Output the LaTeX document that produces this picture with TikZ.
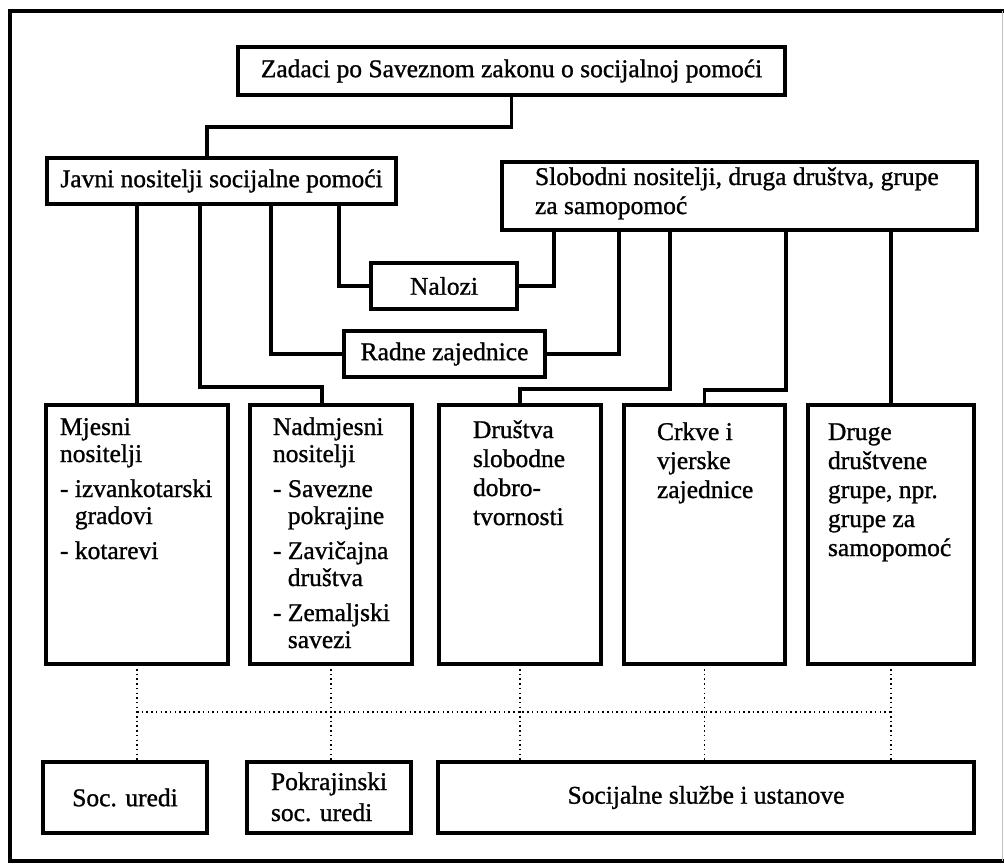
\documentclass[tikz,border=0pt]{standalone}
\usepackage{fontspec}
\setmainfont{Liberation Serif}[FakeBold=1.0]
\usetikzlibrary{calc}
\newcommand\dgfont{\fontsize{25.5}{27}\selectfont}
\newcommand\dgfontw{\fontsize{25.5}{29}\selectfont}
\tikzset{
  box/.style={draw, line width=3.2pt, inner sep=0pt, outer sep=0pt, font=\dgfont},
  tall/.style={box, minimum height=259pt},
  low/.style={box, minimum height=71pt},
  txt/.style={anchor=base west, inner sep=0pt, outer sep=0pt},
  conn/.style={line width=3.1pt},
  dotl/.style={line width=1.5pt, dash pattern=on 1.5pt off 3.2pt},
  frame/.style={line width=4.5pt}
}
\begin{document}
\begin{tikzpicture}[x=1pt,y=-1pt]
\useasboundingbox (0,0) rectangle (1004,864);
\fill[white] (0,0) rectangle (1004,864);
\draw[frame] (1004,11) -- (10,11) -- (10,861) -- (1004,861);
\draw[gray!50, line width=1pt] (1002,11) -- (1002,861);

% top boxes
\node[box, minimum width=547pt, minimum height=48pt] (zadaci) at (511.5,71) {Zadaci po Saveznom zakonu o socijalnoj pomoći};
\node[box, minimum width=349pt, minimum height=46pt] (javni) at (221.5,181) {Javni nositelji socijalne pomoći};
\node[box, minimum width=475pt, minimum height=68pt] (slobodni) at (739.5,196) {};
\node[txt, font=\dgfontw] (slobodniT) at (535,185) {\begin{tabular}[t]{@{}l@{}}Slobodni nositelji, druga društva, grupe\\za samopomoć\end{tabular}};
\node[box, minimum width=146pt, minimum height=46pt] (nalozi) at (444,286) {Nalozi};
\node[box, minimum width=201pt, minimum height=46pt] (radne) at (444.5,354) {Radne zajednice};

% tall boxes
\node[tall, minimum width=182pt] (mjesni) at (137,534.5) {};
\node[tall, minimum width=162pt] (nadmjesni) at (331,534.5) {};
\node[tall, minimum width=162pt] (drustva) at (520,534.5) {};
\node[tall, minimum width=161pt] (crkve) at (704.5,534.5) {};
\node[tall, minimum width=166pt] (druge) at (891,534.5) {};

\node[txt, font=\dgfont] (mjesniT) at (60,435) {\begin{tabular}[t]{@{}l@{}}Mjesni\\nositelji\\[8pt]- izvankotarski\\\phantom{- }gradovi\\[8pt]- kotarevi\end{tabular}};
\node[txt, font=\dgfont] (nadmjesniT) at (273,435) {\begin{tabular}[t]{@{}l@{}}Nadmjesni\\nositelji\\[8pt]- Savezne\\\phantom{- }pokrajine\\[8pt]- Zavičajna\\\phantom{- }društva\\[8pt]- Zemaljski\\\phantom{- }savezi\end{tabular}};
\node[txt, font=\dgfontw] (drustvaT) at (473,438) {\begin{tabular}[t]{@{}l@{}}Društva\\slobodne\\dobro-\\tvornosti\end{tabular}};
\node[txt, font=\dgfontw] (crkveT) at (657,440) {\begin{tabular}[t]{@{}l@{}}Crkve i\\vjerske\\zajednice\end{tabular}};
\node[txt, font=\dgfontw] (drugeT) at (828,440) {\begin{tabular}[t]{@{}l@{}}Druge\\društvene\\grupe, npr.\\grupe za\\samopomoć\end{tabular}};

% bottom boxes
\node[low, minimum width=164pt] (socuredi) at (125,797.5) {Soc. uredi};
\node[low, minimum width=164pt] (pokr) at (329,797.5) {};
\node[txt, font=\dgfont] (pokrT) at (271,790) {\begin{tabular}[t]{@{}l@{}}Pokrajinski\\[4pt]soc. uredi\end{tabular}};
\node[low, minimum width=536pt] (socsl) at (706,797.5) {Socijalne službe i ustanove};

% helper coordinates
\coordinate (xz) at (207,0);
\coordinate (x200) at (200,0);
\coordinate (x271) at (271,0);
\coordinate (x322) at (322,0);
\coordinate (x339) at (339,0);
\coordinate (x554) at (554,0);
\coordinate (x619) at (619,0);
\coordinate (x670) at (670,0);
\coordinate (x786) at (786,0);
\coordinate (y127) at (0,127);
\coordinate (y387) at (0,387);
\coordinate (y389) at (0,389);
\coordinate (y390) at (0,390);
\coordinate (y712) at (0,712);

% solid connectors
\draw[conn] (zadaci.south) -- (zadaci.south |- y127) -| (javni.north -| xz);
\draw[conn] (javni.south -| mjesni.north) -- (mjesni.north);
\draw[conn] (javni.south -| x200) -- (x200 |- y387) -| (nadmjesni.north -| x322);
\draw[conn] (javni.south -| x271) |- (radne.west);
\draw[conn] (javni.south -| x339) |- (nalozi.west);
\draw[conn] (slobodni.south -| x554) |- (nalozi.east);
\draw[conn] (slobodni.south -| x619) |- (radne.east);
\draw[conn] (slobodni.south -| x670) -- (x670 |- y389) -| (drustva.north);
\draw[conn] (slobodni.south -| x786) -- (x786 |- y390) -| (crkve.north);
\draw[conn] (slobodni.south -| druge.north) -- (druge.north);

% dotted connectors
\draw[dotl] ([yshift=-5pt]mjesni.south) -- (mjesni.south |- socuredi.north);
\draw[dotl] ([yshift=-5pt]nadmjesni.south) -- (nadmjesni.south |- pokr.north);
\draw[dotl] ([yshift=-5pt]drustva.south) -- (drustva.south |- socsl.north);
\draw[dotl] ([yshift=-5pt]crkve.south) -- (crkve.south |- socsl.north);
\draw[dotl] ([yshift=-5pt]druge.south) -- (druge.south |- socsl.north);
\draw[dotl] (mjesni.south |- y712) -- (druge.south |- y712);
\end{tikzpicture}
\end{document}
